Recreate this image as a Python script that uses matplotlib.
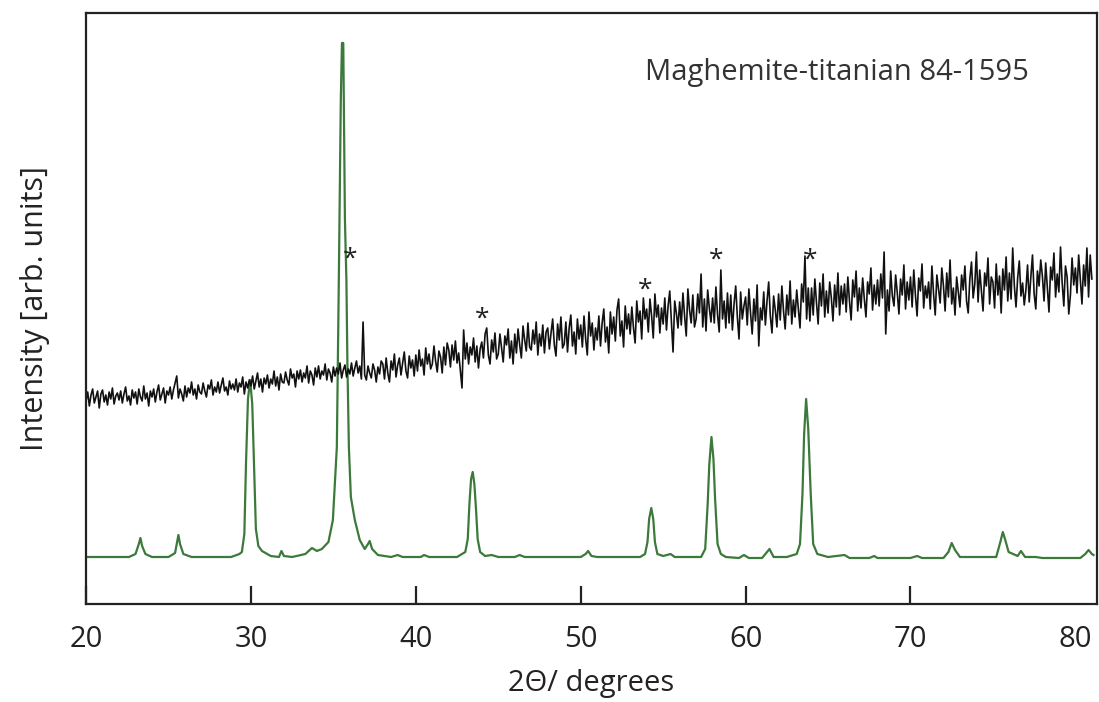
# XRD pattern: measured sample vs. maghemite-titanian reference (84-1595)
import numpy as np
import matplotlib.pyplot as plt

plt.rcParams['font.family'] = ['Open Sans', 'DejaVu Sans']

# measured pattern, 2theta from 20 to 81 deg in 0.1 deg steps (arb. units)
sample_start, sample_step = 20.0, 0.1
sample_counts = [
    203, 212, 198, 209, 215, 201, 207, 213, 196, 210,   # 20
    214, 202, 209, 199, 212, 205, 216, 200, 208, 211,   # 21
    204, 213, 201, 210, 217, 203, 208, 199, 214, 206,   # 22
    212, 200, 215, 207, 203, 218, 205, 211, 198, 213,   # 23
    207, 215, 202, 212, 219, 204, 210, 216, 201, 213,   # 24
    209, 217, 205, 214, 221, 228, 206, 215, 210, 203,   # 25
    218, 207, 216, 211, 222, 209, 215, 205, 219, 212,   # 26
    210, 221, 213, 207, 219, 215, 224, 209, 217, 212,   # 27
    222, 211, 219, 226, 213, 217, 209, 223, 215, 220,   # 28
    214, 225, 212, 221, 217, 227, 210, 222, 216, 224,   # 29
    218, 228, 215, 223, 231, 217, 225, 212, 226, 220,   # 30
    229, 216, 225, 220, 233, 218, 227, 214, 230, 222,   # 31
    221, 232, 224, 219, 235, 226, 230, 217, 233, 225,   # 32
    234, 222, 231, 226, 238, 221, 233, 229, 219, 236,   # 33
    227, 238, 225, 233, 229, 240, 224, 235, 231, 222,   # 34
    237, 228, 236, 230, 241, 226, 234, 239, 227, 235,   # 35
    230, 241, 228, 236, 243, 231, 238, 225, 282, 229,   # 36
    224, 238, 231, 226, 240, 234, 222, 237, 230, 243,   # 37
    240, 225, 246, 231, 222, 243, 234, 250, 227, 239,   # 38
    246, 229, 241, 252, 233, 226, 248, 236, 244, 228,   # 39
    249, 233, 254, 238, 245, 229, 256, 240, 250, 235,   # 40
    240, 258, 243, 232, 253, 247, 231, 257, 239, 261,   # 41
    254, 237, 259, 244, 263, 241, 251, 234, 216, 274,   # 42
    245, 261, 240, 257, 249, 266, 242, 258, 236, 255,   # 43
    262, 246, 270, 276, 249, 240, 264, 252, 271, 245,   # 44
    250, 270, 256, 242, 268, 259, 275, 246, 263, 240,   # 45
    270, 251, 275, 259, 246, 278, 264, 253, 281, 257,   # 46
    254, 274, 260, 282, 249, 270, 258, 279, 251, 272,   # 47
    276, 255, 271, 285, 259, 248, 280, 264, 287, 256,   # 48
    260, 282, 252, 276, 289, 258, 272, 250, 285, 265,   # 49
    279, 257, 288, 265, 249, 292, 268, 281, 254, 276,   # 50
    264, 288, 258, 281, 295, 262, 277, 251, 292, 270,   # 51
    287, 263, 294, 305, 268, 283, 257, 298, 275, 290,   # 52
    270, 297, 276, 261, 303, 282, 293, 265, 306, 285,   # 53
    295, 272, 305, 288, 266, 310, 287, 299, 271, 296,   # 54
    280, 306, 274, 298, 313, 283, 252, 303, 291, 276,   # 55
    302, 279, 311, 288, 268, 315, 294, 281, 309, 277,   # 56
    285, 310, 291, 330, 277, 305, 273, 314, 296, 282,   # 57
    306, 281, 317, 289, 272, 334, 285, 303, 276, 311,   # 58
    281, 309, 274, 300, 318, 287, 265, 312, 285, 298,   # 59
    307, 279, 315, 291, 270, 305, 283, 319, 258, 296,   # 60
    284, 312, 279, 303, 322, 288, 271, 308, 294, 277,   # 61
    310, 284, 318, 293, 275, 309, 289, 323, 280, 304,   # 62
    287, 314, 295, 276, 320, 302, 348, 285, 316, 283,   # 63
    316, 289, 325, 301, 280, 321, 298, 330, 287, 313,   # 64
    291, 322, 306, 283, 319, 297, 331, 289, 318, 300,   # 65
    320, 292, 327, 303, 284, 324, 307, 333, 293, 316,   # 66
    296, 326, 305, 287, 322, 310, 336, 294, 319, 300,   # 67
    324, 298, 330, 306, 352, 270, 314, 293, 333, 308,   # 68
    298, 329, 311, 290, 325, 309, 339, 295, 322, 304,   # 69
    327, 297, 334, 309, 288, 326, 313, 340, 296, 318,   # 70
    306, 322, 295, 338, 310, 289, 329, 315, 301, 336,   # 71
    318, 293, 331, 307, 344, 300, 316, 289, 327, 312,   # 72
    297, 329, 314, 338, 303, 291, 325, 342, 306, 320,   # 73
    352, 302, 334, 313, 293, 331, 318, 346, 300, 327,   # 74
    322, 296, 340, 309, 328, 291, 335, 314, 347, 303,   # 75
    331, 305, 356, 318, 297, 326, 343, 308, 321, 299,   # 76
    314, 339, 302, 327, 349, 310, 295, 333, 318, 344,   # 77
    328, 303, 341, 316, 292, 337, 324, 351, 307, 330,   # 78
    312, 357, 321, 298, 338, 327, 290, 309, 346, 319,   # 79
    336, 311, 349, 324, 300, 339, 318, 356, 307, 349,   # 80
    325,                                                # 81
]
sample_2theta = sample_start + sample_step * np.arange(len(sample_counts))

# reference pattern (maghemite-titanian 84-1595), read point by point
ref_2theta = [
    20.0, 22.6, 23.0, 23.2, 23.3, 23.4, 23.6, 24.0,
    25.0, 25.4, 25.6, 25.7, 25.9, 26.4,
    28.8, 29.3, 29.45, 29.6, 29.7, 29.82, 29.95, 30.08, 30.2, 30.3, 30.45, 30.67,
    31.2, 31.7, 31.85, 32.0, 32.5, 33.3, 33.7, 34.0, 34.3, 34.7,
    34.97, 35.21, 35.33, 35.45, 35.52, 35.6, 35.7, 35.79, 35.85, 35.94, 36.06, 36.3, 36.6,
    36.9, 37.1, 37.2, 37.35, 37.7, 38.5, 38.9, 39.2, 40.3, 40.5, 40.8,
    42.5, 43.0, 43.15, 43.25, 43.35, 43.45, 43.55, 43.65, 43.75, 43.9, 44.2, 44.6, 45.0,
    46.0, 46.3, 46.6, 50.0, 50.3, 50.45, 50.65, 51.0,
    53.6, 53.9, 54.05, 54.15, 54.28, 54.4, 54.5, 54.65, 55.0, 55.45, 55.7,
    57.3, 57.55, 57.7, 57.8, 57.93, 58.05, 58.15, 58.3, 58.5, 58.8,
    59.6, 59.9, 60.2, 61.0, 61.3, 61.45, 61.7, 62.5,
    63.1, 63.3, 63.45, 63.55, 63.67, 63.8, 63.95, 64.1, 64.35, 65.0,
    66.0, 66.3, 67.5, 67.8, 68.0, 70.0, 70.4, 70.7,
    72.0, 72.3, 72.5, 72.7, 73.0, 75.2, 75.45, 75.6, 75.75, 75.95,
    76.5, 76.7, 76.95, 77.6, 78.0, 80.3, 80.6, 80.8, 81.0, 81.1,
]
ref_counts = [
    47, 47, 50, 60, 66, 58, 50, 47,
    47, 51, 69, 60, 50, 47,
    47, 50, 52, 70, 140, 205, 224, 200, 130, 75, 58, 53,
    48, 47, 53, 48, 47, 50, 56, 53, 55, 62,
    84, 157, 324, 504, 561, 561, 384, 324, 241, 157, 107, 84, 64,
    55, 60, 63, 55, 49, 47, 49, 47, 47, 49, 47,
    47, 52, 65, 100, 125, 132, 120, 95, 65, 52, 48, 49, 47,
    47, 49, 47, 47, 50, 53, 48, 47,
    47, 50, 62, 85, 96, 85, 62, 50, 48, 50, 47,
    47, 55, 100, 140, 167, 145, 105, 60, 50, 47,
    46, 49, 46, 46, 52, 55, 47, 47,
    50, 60, 110, 170, 205, 175, 110, 60, 50, 47,
    49, 46, 46, 48, 46, 46, 48, 46,
    46, 52, 61, 54, 47, 47, 62, 72, 64, 52,
    48, 53, 47, 47, 46, 46, 50, 54, 50, 49,
]

# peaks of the sample marked with an asterisk
star_2theta = [36.0, 44.0, 53.9, 58.2, 63.9]
star_counts = [345, 285, 314, 344, 344]

fig = plt.figure(figsize=(10.99, 7.02), dpi=100)
ax = fig.add_axes([0.0783, 0.1396, 0.9197, 0.8419])

ax.plot(ref_2theta, ref_counts, color='#3b7a3b', lw=1.6)
ax.plot(sample_2theta, sample_counts, color='#111111', lw=1.2)

for x, y in zip(star_2theta, star_counts):
    ax.text(x, y, '*', fontsize=19, ha='center', va='center', color='#222222')

ax.text(0.553, 0.900, 'Maghemite-titanian 84-1595', transform=ax.transAxes,
        fontsize=21, color='#333333', ha='left', va='center')

ax.set_xlim(20, 81.3)
ax.set_ylim(0, 591)
ax.set_xticks([20, 30, 40, 50, 60, 70, 80])
ax.set_yticks([])
ax.tick_params(axis='x', direction='in', length=13, width=1.6, pad=15,
               labelsize=21, colors='#222222')
ax.xaxis.get_major_ticks()[-1].tick1line.set_visible(False)
for s in ax.spines.values():
    s.set_linewidth(1.6)
    s.set_color('#222222')

ax.set_xlabel('2Θ/ degrees', fontsize=21, color='#222222', labelpad=11)
ax.set_ylabel('Intensity [arb. units]', fontsize=22, color='#222222', labelpad=26)

fig.savefig('out.png', dpi=100)
